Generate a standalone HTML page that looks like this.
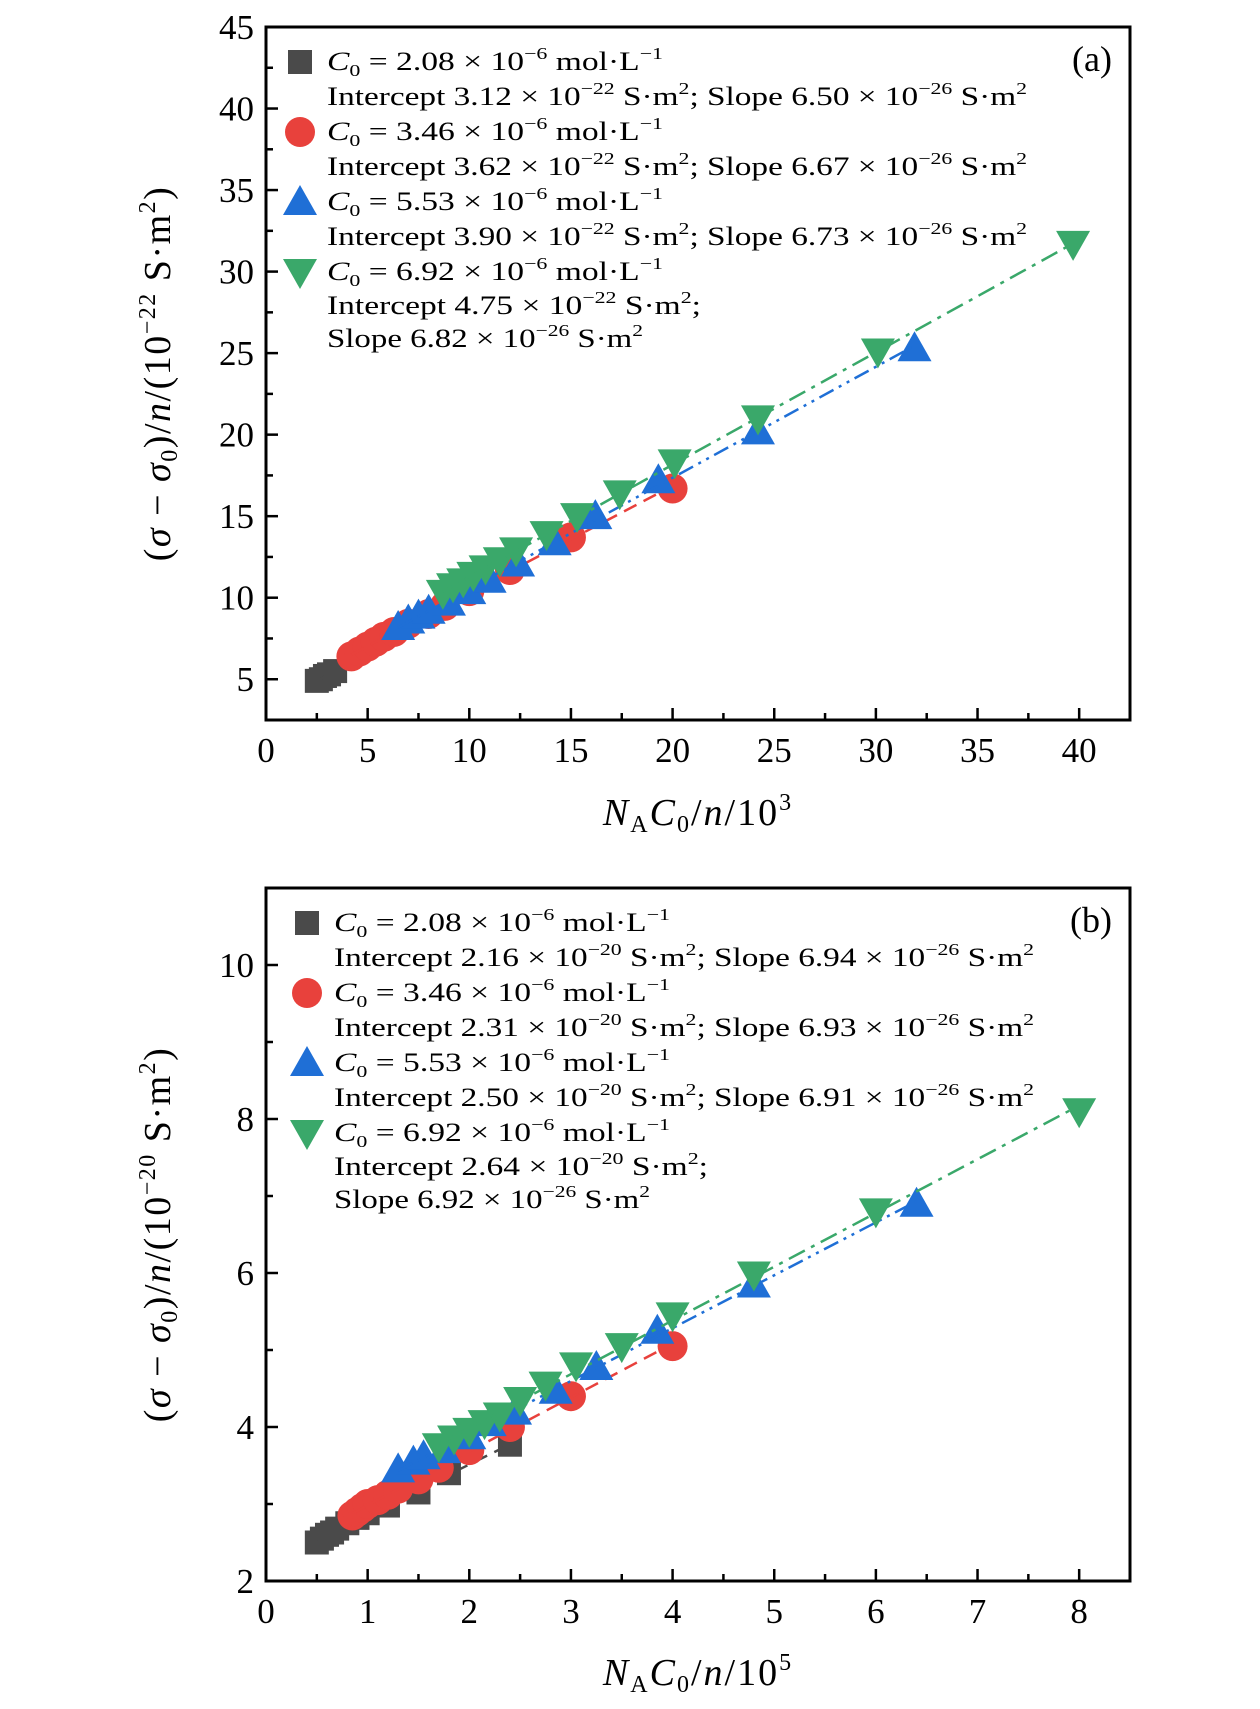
<!DOCTYPE html>
<html><head><meta charset="utf-8"><style>
html,body{margin:0;padding:0;background:#fff;}
svg{display:block;font-family:"Liberation Serif",serif;}
</style></head><body>
<svg id="fig" width="1260" height="1709" viewBox="0 0 1260 1709"></svg>
<script>
// ===== Panel (a) data =====
const aBlackX=[2.5,2.7,2.9,3.1,3.4];
const aBlackY=[4.9,5.0,5.2,5.3,5.5];
const aRedX=[4.2,4.6,5.0,5.4,5.8,6.3,7.0,8.0,8.8,10.0,12.0,15.0,20.0];
const aRedY=[6.4,6.7,7.0,7.3,7.6,7.9,8.4,9.0,9.5,10.4,11.7,13.7,16.7];
const aBlueX=[6.5,7.0,7.5,8.0,9.0,10.0,11.0,12.4,14.2,16.2,19.3,24.2,31.9];
const aBlueY=[8.2,8.6,8.9,9.2,9.7,10.4,11.1,12.1,13.4,15.0,17.2,20.2,25.3];
const aGreenX=[8.7,9.2,9.7,10.2,10.8,11.5,12.3,13.8,15.3,17.4,20.1,24.2,30.1,39.7];
const aGreenY=[10.3,10.7,11.0,11.4,11.8,12.3,12.9,13.9,15.0,16.4,18.3,21.0,25.1,31.7];
const aXTicks=[0,5,10,15,20,25,30,35,40];
const aYTicks=[5,10,15,20,25,30,35,40,45];
// ===== Panel (b) data =====
const bBlackX=[0.5,0.55,0.6,0.65,0.7,0.8,0.9,1.0,1.2,1.5,1.8,2.4];
const bBlackY=[2.5,2.55,2.6,2.63,2.68,2.75,2.82,2.88,2.98,3.15,3.4,3.77];
const bRedX=[0.85,0.9,0.95,1.0,1.1,1.2,1.3,1.5,1.7,2.0,2.4,3.0,4.0];
const bRedY=[2.85,2.9,2.95,3.0,3.05,3.12,3.2,3.32,3.47,3.7,4.0,4.4,5.05];
const bBlueX=[1.3,1.45,1.55,1.75,2.0,2.2,2.45,2.85,3.25,3.85,4.8,6.4];
const bBlueY=[3.45,3.55,3.62,3.7,3.88,4.05,4.2,4.47,4.78,5.25,5.85,6.9];
const bGreenX=[1.7,1.85,2.0,2.15,2.3,2.5,2.75,3.05,3.5,4.0,4.8,6.0,8.0];
const bGreenY=[3.75,3.85,3.95,4.05,4.15,4.35,4.55,4.8,5.05,5.45,5.98,6.8,8.1];
const bXTicks=[0,1,2,3,4,5,6,7,8];
const bYTicks=[2,4,6,8,10];

const NS="http://www.w3.org/2000/svg";
const svg=document.getElementById('fig');
const COL={black:'#4a4a4a',red:'#e8413c',blue:'#1f6fd6',green:'#3aa86a'};
function mk(tag,attrs,parent){const e=document.createElementNS(NS,tag);for(const k in attrs)e.setAttribute(k,attrs[k]);(parent||svg).appendChild(e);return e;}

function marker(g,type,cx,cy,color){
  let e;
  if(type==='square'){e=mk('rect',{x:cx-12,y:cy-12,width:24,height:24,fill:color},g);}
  else if(type==='circle'){e=mk('circle',{cx:cx,cy:cy,r:15,fill:color},g);}
  else if(type==='up'){e=mk('polygon',{points:`${cx},${cy-17} ${cx-17},${cy+13} ${cx+17},${cy+13}`,fill:color},g);}
  else {e=mk('polygon',{points:`${cx},${cy+17} ${cx-17},${cy-13} ${cx+17},${cy-13}`,fill:color},g);}
  return e;
}
function fit(xs,ys){const n=xs.length;let sx=0,sy=0,sxx=0,sxy=0;for(let i=0;i<n;i++){sx+=xs[i];sy+=ys[i];sxx+=xs[i]*xs[i];sxy+=xs[i]*ys[i];}const m=(n*sxy-sx*sy)/(n*sxx-sx*sx);return {m:m,b:(sy-m*sx)/n};}

function panel(cfg){
  const {L,R,T,B,x0,x1,y0,y1}=cfg;
  const sx=v=>L+(v-x0)/(x1-x0)*(R-L);
  const sy=v=>B-(v-y0)/(y1-y0)*(B-T);
  const g=mk('g',{});
  
  
  cfg.series.forEach(s=>{
    const sg=mk('g',{},g);
    
    
    const f=fit(s.x,s.y);
    const xa=Math.min(...s.x),xb=Math.max(...s.x);
    s.x.forEach((v,i)=>{
      const m=marker(sg,s.type,sx(v),sy(s.y[i]),s.color);
      
      
    });
    const ln=mk('line',{x1:sx(xa),y1:sy(f.m*xa+f.b),x2:sx(xb),y2:sy(f.m*xb+f.b),stroke:s.color,'stroke-width':2.5,'stroke-dasharray':s.dash},sg);
    
    
  });
  const fr=mk('rect',{x:L,y:T,width:R-L,height:B-T,fill:'none',stroke:'#000','stroke-width':3},g);
  
  
  for(let v=x0;v<=x1+1e-9;v+=cfg.xMinor){
    const major=Math.abs(v/cfg.xMajor-Math.round(v/cfg.xMajor))<1e-6;
    const t=mk('line',{x1:sx(v),x2:sx(v),y1:B,y2:B-(major?12:7),stroke:'#000','stroke-width':2.5},g);
    
    
  }
  for(let v=y0;v<=y1+1e-9;v+=cfg.yMinor){
    const major=Math.abs(v/cfg.yMajor-Math.round(v/cfg.yMajor))<1e-6;
    const t=mk('line',{x1:L,x2:L+(major?12:7),y1:sy(v),y2:sy(v),stroke:'#000','stroke-width':2.5},g);
    
    
  }
  cfg.xTicks.forEach(v=>{
    const t=mk('text',{x:sx(v),y:B+42,'font-size':35,'text-anchor':'middle'},g);t.textContent=v;
    
    
  });
  cfg.yTicks.forEach(v=>{
    const t=mk('text',{x:L-12,y:sy(v)+12,'font-size':35,'text-anchor':'end'},g);t.textContent=v;
    
    
  });
  const pl=mk('text',{x:R-18,y:T+44,'font-size':36,'text-anchor':'end'},g);pl.textContent=cfg.letter;
  
  
  const xt=mk('text',{x:(L+R)/2,y:cfg.xTitleY,'font-size':38,'text-anchor':'middle','letter-spacing':2},g);
  xt.innerHTML='<tspan font-style="italic">N</tspan><tspan font-size="24" dy="7">A</tspan><tspan font-style="italic" dy="-7">C</tspan><tspan font-size="24" dy="7">0</tspan><tspan dy="-7">/</tspan><tspan font-style="italic">n</tspan><tspan>/10</tspan><tspan font-size="24" dy="-15">'+cfg.xExp+'</tspan>';
  
  
  const cy=(T+B)/2;
  const yt=mk('text',{x:0,y:0,'font-size':38,'text-anchor':'middle','letter-spacing':1.5,transform:`translate(170,${cy}) rotate(-90)`},g);
  yt.innerHTML='(<tspan font-style="italic">σ</tspan> − <tspan font-style="italic">σ</tspan><tspan font-size="24" dy="7">0</tspan><tspan dy="-7">)/</tspan><tspan font-style="italic">n</tspan>/(10<tspan font-size="24" dy="-15">−'+cfg.yExp+'</tspan><tspan dy="15"> S·m</tspan><tspan font-size="24" dy="-15">2</tspan><tspan dy="15">)</tspan>';
  
  
  const lg=mk('g',{},g);
  
  
  const rows=cfg.legendRows;
  const sup=s=>`<tspan font-size="17" dy="-11">${s}</tspan><tspan dy="11">`;
  const lines=[];
  cfg.series.forEach((s,i)=>{
    lines.push({marker:s,len:336,text:`<tspan font-style="italic">C</tspan><tspan font-size="17" dy="6">0</tspan><tspan dy="-6"> = ${s.c} × 10</tspan>${sup('−6')} mol·L</tspan>${sup('−1')}</tspan>`});
    const it=`Intercept ${s.ic} × 10${sup('−'+cfg.yExp)} S·m</tspan>${sup('2')};</tspan>`;
    const sl=`Slope ${s.sl} × 10${sup('−26')} S·m</tspan>${sup('2')}</tspan>`;
    if(i<3) lines.push({len:700,text:it.slice(0,-8)+' '+sl+'</tspan>'}); else {lines.push({len:374,text:it});lines.push({len:316,text:sl});}
  });
  lines.forEach((ln,i)=>{
    const y=rows[i];
    if(ln.marker){const m=marker(lg,ln.marker.type,cfg.legMX,y-8,ln.marker.color);
      
      }
    const t=mk('text',{x:cfg.legTX,y:y,'font-size':26,textLength:ln.len,lengthAdjust:'spacingAndGlyphs'},lg);
    t.innerHTML=ln.text;
    
    
  });
}

panel({name:'panel-a',letter:'(a)',L:266,R:1130,T:27,B:720,x0:0,x1:42.5,y0:2.5,y1:45,xMajor:5,xMinor:2.5,yMajor:5,yMinor:2.5,
  xTicks:aXTicks,yTicks:aYTicks,xTitleY:825,xExp:'3',yExp:'22',legMX:300,legTX:327,
  legendRows:[70,105,140,175,210,245,280,314,347],
  series:[
    {name:'series-c208',type:'square',color:COL.black,x:aBlackX,y:aBlackY,dash:'14 8',c:'2.08',ic:'3.12',sl:'6.50'},
    {name:'series-c346',type:'circle',color:COL.red,x:aRedX,y:aRedY,dash:'14 8',c:'3.46',ic:'3.62',sl:'6.67'},
    {name:'series-c553',type:'up',color:COL.blue,x:aBlueX,y:aBlueY,dash:'16 6 3 6 3 6',c:'5.53',ic:'3.90',sl:'6.73'},
    {name:'series-c692',type:'down',color:COL.green,x:aGreenX,y:aGreenY,dash:'18 7 4 7',c:'6.92',ic:'4.75',sl:'6.82'}]});

panel({name:'panel-b',letter:'(b)',L:266,R:1130,T:888,B:1581,x0:0,x1:8.5,y0:2,y1:11,xMajor:1,xMinor:0.5,yMajor:2,yMinor:1,
  xTicks:bXTicks,yTicks:bYTicks,xTitleY:1685,xExp:'5',yExp:'20',legMX:307,legTX:334,
  legendRows:[931,966,1001,1036,1071,1106,1141,1175,1208],
  series:[
    {name:'series-c208',type:'square',color:COL.black,x:bBlackX,y:bBlackY,dash:'14 8',c:'2.08',ic:'2.16',sl:'6.94'},
    {name:'series-c346',type:'circle',color:COL.red,x:bRedX,y:bRedY,dash:'14 8',c:'3.46',ic:'2.31',sl:'6.93'},
    {name:'series-c553',type:'up',color:COL.blue,x:bBlueX,y:bBlueY,dash:'16 6 3 6 3 6',c:'5.53',ic:'2.50',sl:'6.91'},
    {name:'series-c692',type:'down',color:COL.green,x:bGreenX,y:bGreenY,dash:'18 7 4 7',c:'6.92',ic:'2.64',sl:'6.92'}]});
</script>
</body></html>
